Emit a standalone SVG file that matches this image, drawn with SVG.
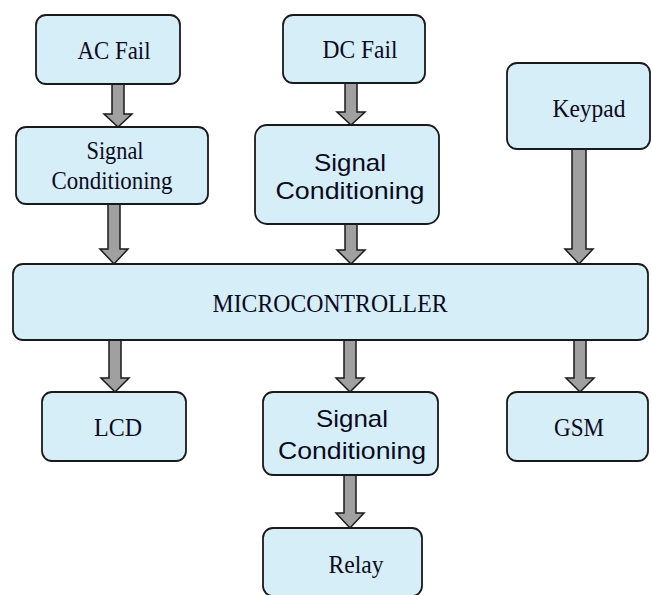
<svg xmlns="http://www.w3.org/2000/svg" width="652" height="595" viewBox="0 0 652 595">
<style>
.box{fill:#d6eef8;stroke:#1a1a1a;stroke-width:1.8}
.arr{fill:#a0a0a0;stroke:#1a1a1a;stroke-width:1.5;stroke-linejoin:miter}
.serif{font-family:"Liberation Serif","Times New Roman",serif;font-size:25px;fill:#0a0a1e;text-anchor:middle}
.sans{font-family:"Liberation Sans",Arial,sans-serif;font-size:24px;fill:#0a0a1e;text-anchor:middle}
</style>
<rect width="652" height="595" fill="#ffffff"/>
<g id="connectors">
<polygon class="arr" points="112,84 124,84 124,114 132,114 118,127 104,114 112,114"/>
<polygon class="arr" points="108,204 120,204 120,249 128,249 114,264 100,249 108,249"/>
<polygon class="arr" points="345,83 357,83 357,112 365,112 351,125 337,112 345,112"/>
<polygon class="arr" points="345,224 357,224 357,250 365,250 351,264 337,250 345,250"/>
<polygon class="arr" points="572,149 586,149 586,249 593,249 579,264 565,249 572,249"/>
<polygon class="arr" points="109,340 121,340 121,378 129,378 115,392 101,378 109,378"/>
<polygon class="arr" points="344,340 356,340 356,378 364,378 350,392 336,378 344,378"/>
<polygon class="arr" points="574,340 586,340 586,378 594,378 580,392 566,378 574,378"/>
<polygon class="arr" points="344,475 356,475 356,513 364,513 350,528 336,513 344,513"/>
</g>
<g id="ac-fail"><rect class="box" x="36" y="15" width="144" height="69" rx="10"/><text class="serif" x="114" y="59" textLength="73" lengthAdjust="spacingAndGlyphs">AC Fail</text></g>
<g id="sc-left"><rect class="box" x="16" y="127" width="192" height="77" rx="10"/><text class="serif" x="115" y="159" textLength="57" lengthAdjust="spacingAndGlyphs">Signal</text><text class="serif" x="112" y="189" textLength="121" lengthAdjust="spacingAndGlyphs">Conditioning</text></g>
<g id="dc-fail"><rect class="box" x="283" y="15" width="142" height="68" rx="10"/><text class="serif" x="360" y="58" textLength="75" lengthAdjust="spacingAndGlyphs">DC Fail</text></g>
<g id="sc-mid-top"><rect class="box" x="255" y="125" width="184" height="99" rx="12"/><text class="sans" x="350" y="171" textLength="72" lengthAdjust="spacingAndGlyphs">Signal</text><text class="sans" x="350" y="199" textLength="149" lengthAdjust="spacingAndGlyphs">Conditioning</text></g>
<g id="keypad"><rect class="box" x="507" y="63" width="143" height="86" rx="10"/><text class="serif" x="589" y="117" textLength="73" lengthAdjust="spacingAndGlyphs">Keypad</text></g>
<g id="microcontroller"><rect class="box" x="13" y="264" width="635" height="76" rx="10"/><text class="serif" x="330" y="312" font-size="26" textLength="235" lengthAdjust="spacingAndGlyphs">MICROCONTROLLER</text></g>
<g id="lcd"><rect class="box" x="42" y="392" width="144" height="69" rx="10"/><text class="serif" x="118" y="436" textLength="48" lengthAdjust="spacingAndGlyphs">LCD</text></g>
<g id="sc-mid-bottom"><rect class="box" x="263" y="392" width="175" height="83" rx="10"/><text class="sans" x="352" y="427" textLength="72" lengthAdjust="spacingAndGlyphs">Signal</text><text class="sans" x="352" y="459" textLength="148" lengthAdjust="spacingAndGlyphs">Conditioning</text></g>
<g id="gsm"><rect class="box" x="507" y="392" width="141" height="69" rx="10"/><text class="serif" x="579" y="436" textLength="50" lengthAdjust="spacingAndGlyphs">GSM</text></g>
<g id="relay"><rect class="box" x="263" y="528" width="159" height="68" rx="10"/><text class="serif" x="356" y="573" textLength="55" lengthAdjust="spacingAndGlyphs">Relay</text></g>
</svg>
